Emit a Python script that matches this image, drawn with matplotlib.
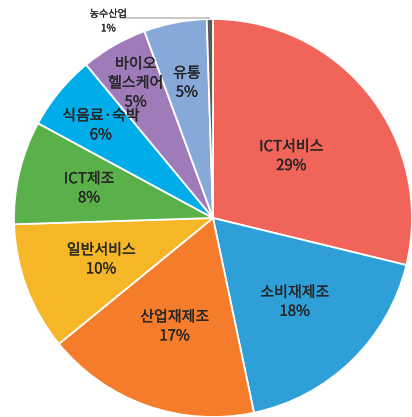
import numpy as np
import matplotlib
matplotlib.use('Agg')
import matplotlib.pyplot as plt
import matplotlib.patheffects as pe

plt.rcParams['font.family'] = ['Noto Sans CJK KR', 'DejaVu Sans']

# clockwise from 12 o'clock
names = ['ICT서비스', '소비재제조', '산업재제조', '일반서비스', 'ICT제조',
         '식음료·숙박', '바이오\n헬스케어', '유통', '농수산업']
values = [28.8, 17.9, 17.4, 10.4, 8.4, 6.1, 5.4, 5.1, 0.5]
pct_text = ['29%', '18%', '17%', '10%', '8%', '6%', '5%', '5%', '1%']
colors = ['#F0645A', '#2F9FD8', '#F47C2B', '#F5B727', '#5AB14A',
          '#00ADE8', '#9F7CB9', '#86A9D9', '#5A5A5A']
# how far out (in radii) each label sits
label_r = [0.50, 0.59, 0.58, 0.60, 0.64, 0.73, 0.78, 0.69, 1.12]

W, H = 412, 417
fig = plt.figure(figsize=(W / 100, H / 100), dpi=100)
ax = fig.add_axes([0, 0, 1, 1])

cx, cy, R = 213, 199, 199
wedges, _ = ax.pie(values, colors=colors, startangle=90, counterclock=False,
                   center=(cx, cy), radius=R,
                   wedgeprops=dict(edgecolor='white', linewidth=1.3))

thick = [pe.withStroke(linewidth=0.2, foreground='#262626')]

for i, w in enumerate(wedges):
    mid = np.deg2rad((w.theta1 + w.theta2) / 2)
    if i == len(wedges) - 1:
        # the tiny slice gets an outside label with a leader line
        ang = np.deg2rad(118)
        tx = cx + R * label_r[i] * np.cos(ang)
        ty = cy + R * label_r[i] * np.sin(ang)
        ax.text(tx, ty, names[i] + '\n' + pct_text[i], ha='center', va='center',
                fontsize=7.3, color='#262626', linespacing=1.55,
                path_effects=[pe.withStroke(linewidth=0.15, foreground='#262626')])
        px = cx + R * np.cos(mid)
        py = cy + R * np.sin(mid) + 1
        ax.plot([tx + 12, px], [py, py], color='#BFBFBF', lw=1.2,
                solid_capstyle='butt', clip_on=False)
        continue
    tx = cx + R * label_r[i] * np.cos(mid)
    ty = cy + R * label_r[i] * np.sin(mid)
    ax.text(tx, ty, names[i] + '\n' + pct_text[i], ha='center', va='center',
            fontsize=10.8, color='#262626', linespacing=1.45, path_effects=thick)

ax.set_xlim(0, W)
ax.set_ylim(0, H)
ax.set_aspect('equal')
ax.axis('off')
fig.savefig('out.png', dpi=100)
